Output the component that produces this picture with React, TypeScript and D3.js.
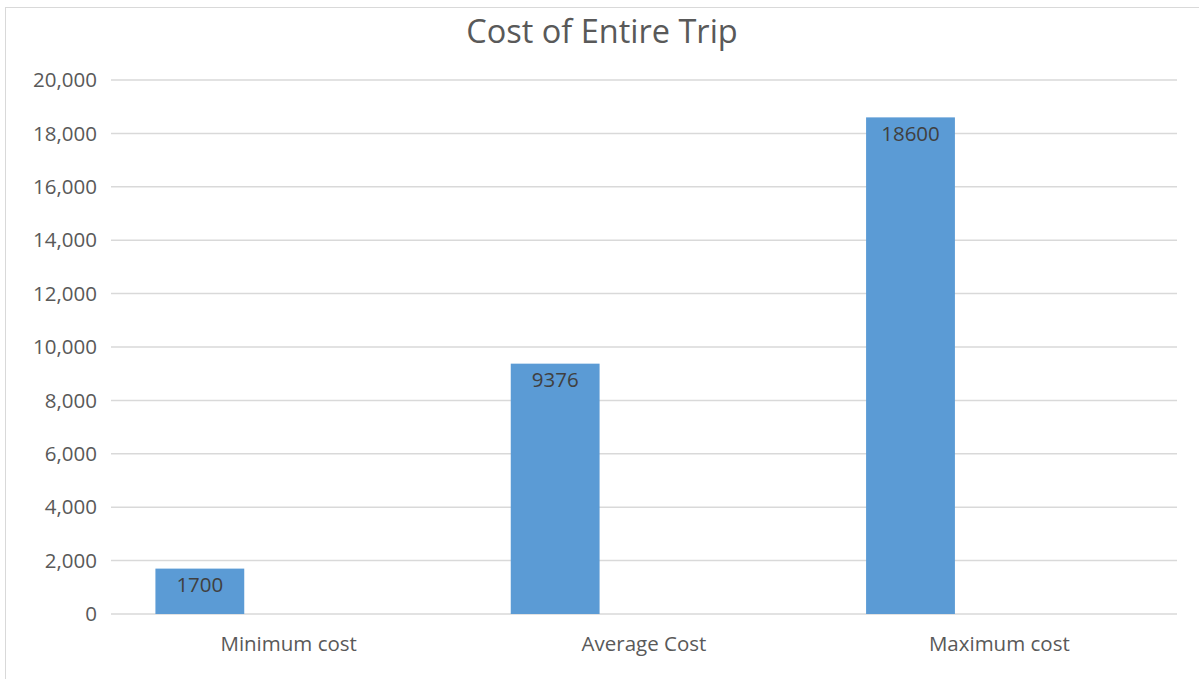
import React from "react";
import * as d3 from "d3";

const categories = ["Minimum cost", "Average Cost", "Maximum cost"];
const seriesNames = ["Cost", "Empty A", "Empty B"];
const costValues = [1700, 9376, 18600];
const emptyValuesA = [0, 0, 0];
const emptyValuesB = [0, 0, 0];
const yTicks = [0, 2000, 4000, 6000, 8000, 10000, 12000, 14000, 16000, 18000, 20000];
const title = "Cost of Entire Trip";

const W = 1199;
const H = 679;
const FONT = "'Open Sans', 'Segoe UI', sans-serif";

export default function App() {
  const left = 111;
  const right = 1177;
  const top = 80;
  const bottom = 614;

  const x = d3.scaleBand<string>().domain(categories).range([left, right]).paddingInner(0).paddingOuter(0);
  // Excel-style: gap width 100% with 3 series per category
  const sub = d3
    .scaleBand<string>()
    .domain(seriesNames)
    .range([0, x.bandwidth()])
    .paddingInner(0)
    .paddingOuter(0.5);
  const y = d3.scaleLinear().domain([0, 20000]).range([bottom, top]);
  const fmt = d3.format(",");

  const series = [costValues, emptyValuesA, emptyValuesB];

  return (
    <svg
      width={W}
      height={H}
      style={{ position: "absolute", left: 0, top: 0, background: "#fff" }}
      fontFamily={FONT}
    >
      <rect x={5.5} y={7.5} width={1200} height={700} fill="#fff" stroke="#D9D9D9" strokeWidth={1} />
      <text x={602} y={43} textAnchor="middle" fontSize={32.5} fill="#595959">
        {title}
      </text>
      {yTicks.map((t) => (
        <g key={t}>
          <line x1={left} x2={right} y1={y(t)} y2={y(t)} stroke="#D9D9D9" strokeWidth={1.5} />
          <text x={97} y={y(t)} dy="0.35em" textAnchor="end" fontSize={20.5} fill="#595959">
            {fmt(t)}
          </text>
        </g>
      ))}
      {series.map((vals, si) =>
        vals.map((v, i) => {
          if (v <= 0) return null;
          const bx = (x(categories[i]) as number) + (sub(seriesNames[si]) as number);
          const bw = sub.bandwidth();
          return (
            <g key={`${si}-${i}`}>
              <rect x={bx} y={y(v)} width={bw} height={y(0) - y(v)} fill="#5B9BD5" />
              <text
                x={bx + bw / 2}
                y={y(v) + 16}
                dy="0.35em"
                textAnchor="middle"
                fontSize={20.5}
                fill="#404040"
              >
                {v}
              </text>
            </g>
          );
        })
      )}
      {categories.map((c) => (
        <text
          key={c}
          x={(x(c) as number) + x.bandwidth() / 2}
          y={644}
          dy="0.35em"
          textAnchor="middle"
          fontSize={20.5}
          fill="#595959"
        >
          {c}
        </text>
      ))}
    </svg>
  );
}
